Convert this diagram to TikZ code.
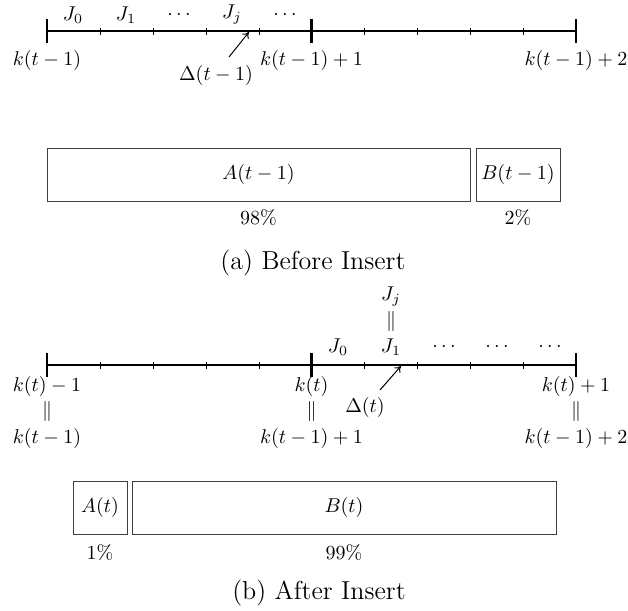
\documentclass[tikz,border=0pt]{standalone}
\usetikzlibrary{arrows.meta}
\begin{document}
\begin{tikzpicture}[x=0.5pt,y=-0.5pt,
  axisline/.style={line width=0.8pt},
  majortick/.style={line width=1.4pt},
  minortick/.style={line width=0.4pt},
  lab/.style={inner sep=0pt},
  seg/.style={draw=black!75, line width=0.5pt, minimum height=26.5pt, inner sep=0pt},
  captext/.style={font=\fontsize{13}{15.6}\selectfont, inner sep=0pt},
  ptr/.style={-{To[length=3pt,width=4pt]}, line width=0.5pt}]
\useasboundingbox (0,0) rectangle (628,611);

% ---------- (a) Before Insert ----------
\coordinate (u0) at (47,31);
\coordinate (u2) at (576,31);
\draw[axisline] (u0) -- (u2);
\foreach \x in {47,311.5,576} \draw[majortick] (\x,19) -- (\x,43);
\foreach \x in {100,153,206,259,364,417,470,523} \draw[minortick] (\x,28) -- (\x,35);

\node[lab] (j0a) at (73,15) {$J_0$};
\node[lab] (j1a) at (126,15) {$J_1$};
\node[lab] (dda) at (179,15) {$\cdots$};
\node[lab] (jja) at (232,15) {$J_j$};
\node[lab] (ddb) at (285,15) {$\cdots$};

\node[lab] (ka0) at (47,60) {$k(t-1)$};
\node[lab] (ka1) at (311.5,60) {$k(t-1)+1$};
\node[lab] (ka2) at (576,60) {$k(t-1)+2$};

\node[lab] (dela) at (216,75) {$\Delta(t-1)$};
\coordinate (dela-s) at (229,57);
\coordinate (dela-e) at (249,32);
\draw[ptr] (dela-s) -- (dela-e);

\node[seg, minimum width=211.5pt] (Aa) at (258.5,174.5) {$A(t-1)$};
\node[seg, minimum width=42pt] (Ba) at (518,174.5) {$B(t-1)$};
\node[lab] (pa1) at (258.5,218) {98\%};
\node[lab] (pa2) at (518,218) {2\%};

\node[captext] (capa) at (313,263) {(a) Before Insert};

% ---------- (b) After Insert ----------
\coordinate (v0) at (47,365);
\coordinate (v2) at (576,365);
\draw[axisline] (v0) -- (v2);
\foreach \x in {47,311.5,576} \draw[majortick] (\x,353) -- (\x,377);
\foreach \x in {100,153,206,259,364,417,470,523} \draw[minortick] (\x,362) -- (\x,369);

\node[lab] (j0b) at (338,347) {$J_0$};
\node[lab] (j1b) at (391,347) {$J_1$};
\node[lab] (eqj) at (391,321) {$\|$};
\node[lab] (jjb) at (391,297) {$J_j$};
\node[lab] (dd1) at (444,347) {$\cdots$};
\node[lab] (dd2) at (497,347) {$\cdots$};
\node[lab] (dd3) at (550,347) {$\cdots$};

\node[lab] (kb0) at (47,386) {$k(t)-1$};
\node[lab] (eq0) at (47,411) {$\|$};
\node[lab] (kc0) at (47,438) {$k(t-1)$};
\node[lab] (kb1) at (311.5,386) {$k(t)$};
\node[lab] (eq1) at (311.5,411) {$\|$};
\node[lab] (kc1) at (311.5,438) {$k(t-1)+1$};
\node[lab] (kb2) at (576,386) {$k(t)+1$};
\node[lab] (eq2) at (576,411) {$\|$};
\node[lab] (kc2) at (576,438) {$k(t-1)+2$};

\node[lab] (delb) at (365,407) {$\Delta(t)$};
\coordinate (delb-s) at (380,390);
\coordinate (delb-e) at (401,366);
\draw[ptr] (delb-s) -- (delb-e);

\node[seg, minimum width=27pt] (Ab) at (100,507.5) {$A(t)$};
\node[seg, minimum width=212pt] (Bb) at (344,507.5) {$B(t)$};
\node[lab] (pb1) at (100,553) {1\%};
\node[lab] (pb2) at (344,553) {99\%};

\node[captext] (capb) at (319,593) {(b) After Insert};
\end{tikzpicture}
\end{document}
